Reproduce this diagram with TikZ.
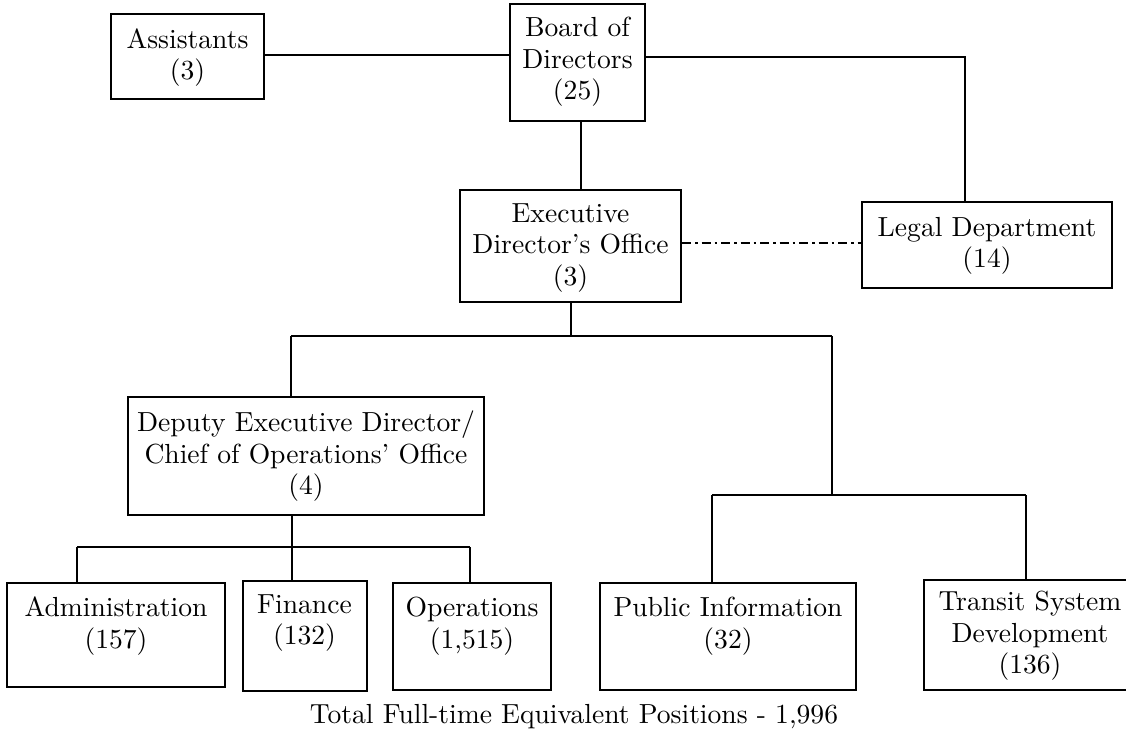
\documentclass[tikz,border=0pt]{standalone}
\usepackage{fontspec}
\setmainfont{lmroman10-regular.otf}
\begin{document}
\begin{tikzpicture}[x=1pt,y=-1pt,
  box/.style={draw,line width=2pt,rectangle,inner sep=0pt},
  txt/.style={font=\fontsize{27.6}{31.5}\selectfont,align=center,inner sep=0pt},
  conn/.style={line width=2pt},
  dashdot/.style={line width=2pt,dash pattern=on 9pt off 4pt on 2.5pt off 4pt}]
\useasboundingbox (0,0) rectangle (1126,734);
\fill[white] (0,0) rectangle (1126,734);
\clip (0,0) rectangle (1126,734);
% boxes
\node[box,minimum width=153pt,minimum height=85pt] (asst) at (187.5,56.5) {};
\node[txt] (asstt) at (187.5,57.5) {Assistants\\(3)};
\node[box,minimum width=135pt,minimum height=117pt] (board) at (577.5,62.5) {};
\node[txt] (boardt) at (577.5,62) {Board of\\Directors\\(25)};
\node[box,minimum width=221pt,minimum height=112pt] (exec) at (570.5,246) {};
\node[txt] (exect) at (570.5,248) {Executive\\Director's Office\\(3)};
\node[box,minimum width=250pt,minimum height=86pt] (legal) at (987,245) {};
\node[txt] (legalt) at (987,246) {Legal Department\\(14)};
\node[box,minimum width=356pt,minimum height=118pt] (dep) at (306,456) {};
\node[txt] (dept) at (306,456.5) {Deputy Executive Director/\\Chief of Operations' Office\\(4)};
\node[box,minimum width=218pt,minimum height=104pt] (adm) at (116,635) {};
\node[txt] (admt) at (116,626) {Administration\\(157)};
\node[box,minimum width=124pt,minimum height=110pt] (fin) at (305,636) {};
\node[txt] (fint) at (304.5,623) {Finance\\(132)};
\node[box,minimum width=158pt,minimum height=107pt] (ops) at (472,636.5) {};
\node[txt] (opst) at (472,626) {Operations\\(1,515)};
\node[box,minimum width=256pt,minimum height=107pt] (pub) at (728,636.5) {};
\node[txt] (pubt) at (728,626) {Public Information\\(32)};
\node[box,minimum width=212pt,minimum height=110pt] (tsd) at (1030,635) {};
\node[txt] (tsdt) at (1030,636) {Transit System\\Development\\(136)};
\node[txt] (total) at (574,717) {Total Full-time Equivalent Positions - 1,996};
% junction coordinates
\coordinate (aj) at (300,55);
\coordinate (lj) at (965,57);
\coordinate (bj) at (581,150);
\coordinate (ej) at (571,320);
\coordinate (dj) at (0,243);
\coordinate (busL) at (291,336);
\coordinate (busR) at (832,336);
\coordinate (rbL) at (712,495);
\coordinate (rbR) at (1026,495);
\coordinate (rbM) at (832,495);
\coordinate (sbL) at (77,547);
\coordinate (sbM) at (292,547);
\coordinate (sbR) at (470,547);
% connectors
\draw[conn] (asst.east |- aj) -- (board.west |- aj);
\draw[conn] (board.east |- lj) -- (lj) -- (lj |- legal.north);
\draw[conn] (bj |- board.south) -- (bj |- exec.north);
\draw[dashdot] (exec.east |- dj) -- (legal.west |- dj);
\draw[conn] (ej |- exec.south) -- (ej |- busL);
\draw[conn] (busL) -- (busR);
\draw[conn] (busL) -- (busL |- dep.north);
\draw[conn] (busR) -- (rbM);
\draw[conn] (rbL) -- (rbR);
\draw[conn] (rbL) -- (rbL |- pub.north);
\draw[conn] (rbR) -- (rbR |- tsd.north);
\draw[conn] (sbM |- dep.south) -- (sbM);
\draw[conn] (sbL) -- (sbR);
\draw[conn] (sbL) -- (sbL |- adm.north);
\draw[conn] (sbM) -- (sbM |- fin.north);
\draw[conn] (sbR) -- (sbR |- ops.north);
\end{tikzpicture}
\end{document}
